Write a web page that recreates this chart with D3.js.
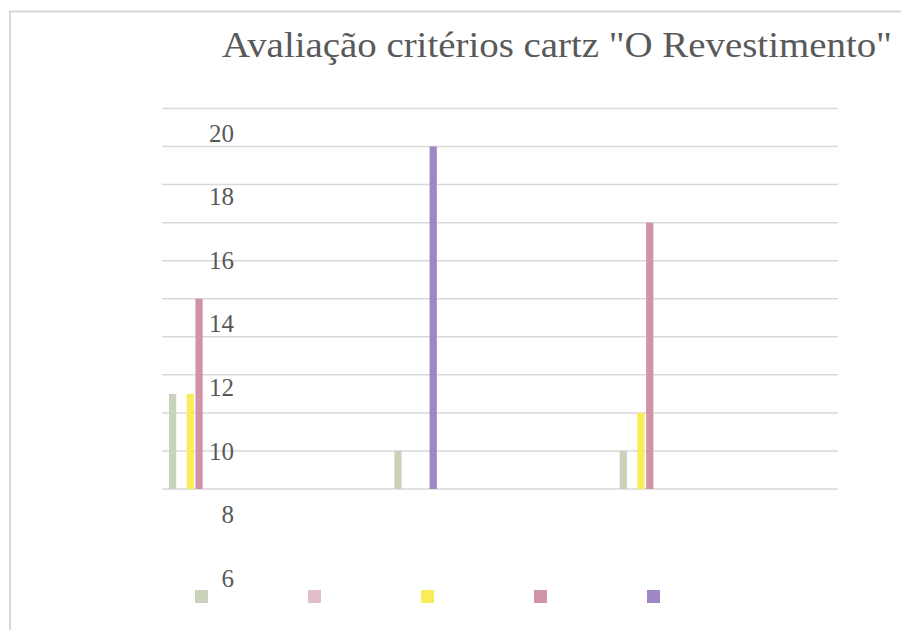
<!DOCTYPE html>
<html>
<head>
<meta charset="utf-8">
<script src="https://cdn.jsdelivr.net/npm/d3@7"></script>
<style>
  body { margin: 0; background: #fff; }
  svg { display: block; }
</style>
</head>
<body>
<section></section>
<script>
const title = 'Avaliação critérios cartz "O Revestimento"';
const categories = ["c1", "c2", "c3"];
const seriesNames = ["s1", "s2", "s3", "s4", "s5"];
const seriesColors = ["#c9d3bc", "#e2bdca", "#f8ec58", "#d193a7", "#9e87c3"];
const s1 = [2.5, 1, 1];
const s2 = [0, 0, 0];
const s3 = [2.5, 0, 2];
const s4 = [5, 0, 7];
const s5 = [0, 9, 0];
const seriesValues = [s1, s2, s3, s4, s5];
const gridTicks = [0, 1, 2, 3, 4, 5, 6, 7, 8, 9, 10];
const tickLabels = [20, 18, 16, 14, 12, 10, 8, 6];

const w = 901;
const h = 630;

const svg = d3
  .select("section")
  .append("svg")
  .attr("width", w)
  .attr("height", h);

// chart frame (runs off the right and bottom edge)
svg
  .append("rect")
  .attr("x", 10)
  .attr("y", 11.5)
  .attr("width", 960)
  .attr("height", 700)
  .attr("fill", "#fff")
  .attr("stroke", "#d9d9d9")
  .attr("stroke-width", 2);

const yScale = d3.scaleLinear().domain([0, 10]).range([489, 108.5]);
const labelScale = d3.scaleLinear().domain([6, 20]).range([578, 133]);
const xScale = d3.scaleBand().domain(categories).range([162, 838]);
const inner = d3
  .scaleBand()
  .domain(seriesNames)
  .range([7, 7 + 5 * 8.5])
  .paddingInner(0.18);

svg
  .selectAll("line.grid")
  .data(gridTicks)
  .enter()
  .append("line")
  .attr("class", "grid")
  .attr("x1", 162)
  .attr("x2", 838)
  .attr("y1", d => yScale(d))
  .attr("y2", d => yScale(d))
  .attr("stroke", "#d9d9d9")
  .attr("stroke-width", 1.5);

const bars = [];
seriesValues.forEach((vals, si) => {
  vals.forEach((v, ci) => {
    bars.push({ s: seriesNames[si], c: categories[ci], v, color: seriesColors[si] });
  });
});

svg
  .selectAll("rect.bar")
  .data(bars.filter(d => d.v > 0))
  .enter()
  .append("rect")
  .attr("class", "bar")
  .attr("x", d => xScale(d.c) + inner(d.s))
  .attr("y", d => yScale(d.v))
  .attr("width", inner.bandwidth())
  .attr("height", d => yScale(0) - yScale(d.v))
  .attr("fill", d => d.color);

svg
  .selectAll("text.tick")
  .data(tickLabels)
  .enter()
  .append("text")
  .attr("class", "tick")
  .attr("x", 234)
  .attr("y", d => labelScale(d))
  .attr("dy", "0.35em")
  .attr("text-anchor", "end")
  .attr("font-family", "Liberation Serif, serif")
  .attr("font-size", 25)
  .attr("fill", "#595959")
  .text(d => d);

svg
  .append("text")
  .attr("x", 222)
  .attr("y", 57)
  .attr("font-family", "Liberation Serif, serif")
  .attr("font-size", 36)
  .attr("textLength", 670)
  .attr("lengthAdjust", "spacingAndGlyphs")
  .attr("fill", "#595959")
  .text(title);

svg
  .selectAll("rect.legend")
  .data(seriesNames)
  .enter()
  .append("rect")
  .attr("class", "legend")
  .attr("x", (d, i) => 195 + i * 113)
  .attr("y", 590)
  .attr("width", 13)
  .attr("height", 13)
  .attr("fill", (d, i) => seriesColors[i]);
</script>
</body>
</html>
